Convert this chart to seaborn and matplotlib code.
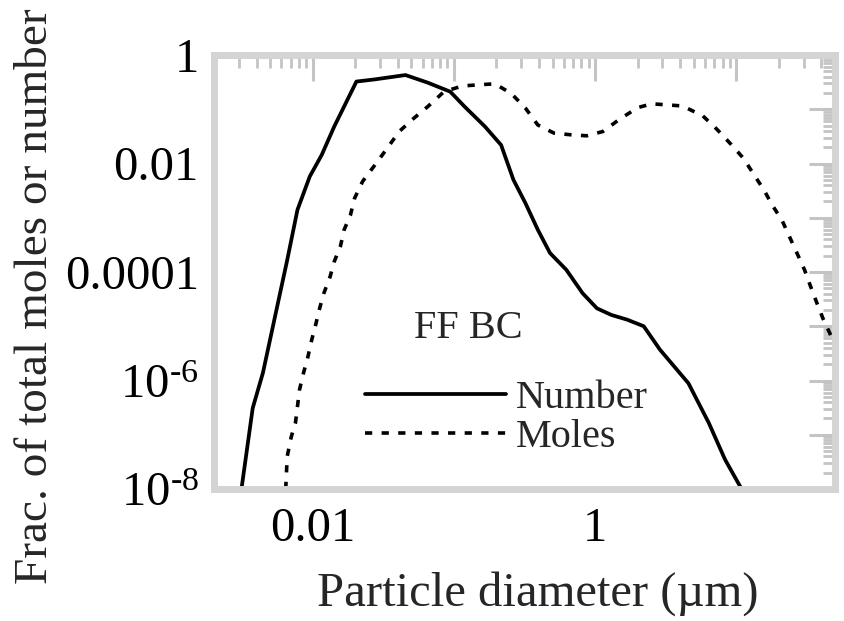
import matplotlib
matplotlib.use("Agg")
import matplotlib.pyplot as plt
import matplotlib.ticker as mticker
import seaborn as sns
import pandas as pd

# ---- data (particle diameter in µm, fraction) ----
number_diam = [0.00313, 0.00376, 0.00444, 0.0056, 0.0066, 0.0078, 0.00953, 0.0116,
               0.0142, 0.0204, 0.0275, 0.0454, 0.0653, 0.0942, 0.119, 0.166, 0.216,
               0.264, 0.321, 0.393, 0.479, 0.625, 0.815, 1.03, 1.30, 1.69, 2.21,
               2.88, 4.58, 6.38, 8.32, 10.9]
number_frac = [1e-8, 3.1e-7, 1.38e-6, 2.29e-5, 1.66e-4, 1.40e-3, 5.75e-3, 0.0145,
               0.0479, 0.324, 0.355, 0.427, 0.309, 0.211, 0.112, 0.0479, 0.0219,
               5.0e-3, 1.86e-3, 6.0e-4, 2.24e-4, 1.10e-4, 4.07e-5, 2.14e-5, 1.62e-5,
               1.32e-5, 1.0e-5, 3.7e-6, 8.9e-7, 1.66e-7, 3.5e-8, 1e-8]

moles_diam = [0.00644, 0.0066, 0.00706, 0.00755, 0.00807, 0.00861, 0.0092, 0.00984,
              0.0105, 0.0112, 0.012, 0.0133, 0.0142, 0.0157, 0.0167, 0.0185, 0.0198,
              0.0226, 0.0275, 0.0337, 0.041, 0.0518, 0.0653, 0.0851, 0.115, 0.15,
              0.195, 0.255, 0.321, 0.393, 0.512, 0.668, 0.871, 1.135, 1.48, 2.0,
              2.52, 3.29, 4.15, 5.78, 7.29, 9.2, 11.2, 13.2, 15.7, 17.9, 21.1, 24.1,
              27.2, 30.4, 33.6, 37.2, 41.0, 46.2, 50.0]
moles_frac = [1e-8, 4.0e-8, 9.3e-8, 1.66e-7, 6.8e-7, 1.38e-6, 2.57e-6, 5.6e-6,
              1.07e-5, 2.14e-5, 4.07e-5, 8.3e-5, 1.55e-4, 2.95e-4, 6.0e-4, 1.12e-3,
              2.29e-3, 4.7e-3, 9.3e-3, 0.0191, 0.0389, 0.0676, 0.112, 0.211, 0.269,
              0.282, 0.295, 0.195, 0.105, 0.0513, 0.0363, 0.0339, 0.0324, 0.0389,
              0.0646, 0.107, 0.126, 0.120, 0.115, 0.0759, 0.0427, 0.0224, 0.0126,
              6.5e-3, 3.24e-3, 1.74e-3, 8.9e-4, 4.17e-4, 2.09e-4, 1.10e-4, 5.4e-5,
              2.69e-5, 1.41e-5, 7.2e-6, 4.7e-6]

series_names = ["Number", "Moles"]
annotation = "FF BC"
x_label = "Particle diameter (µm)"
y_label = "Frac. of total moles or number"
x_tick_labels = {0.01: "0.01", 1.0: "1"}
y_tick_labels = {1.0: "1", 1e-2: "0.01", 1e-4: "0.0001",
                 1e-6: "10$^{\u2010 6}$", 1e-8: "10$^{\u2010 8}$"}

# ---- style ----
sns.set_style("white")
plt.rcParams["font.family"] = ["Liberation Serif", "DejaVu Serif"]
plt.rcParams["mathtext.fontset"] = "custom"
plt.rcParams["mathtext.rm"] = "Liberation Serif"
plt.rcParams["mathtext.it"] = "Liberation Serif:italic"
plt.rcParams["mathtext.bf"] = "Liberation Serif:bold"

df_num = pd.DataFrame({"d": number_diam, "f": number_frac})
df_mol = pd.DataFrame({"d": moles_diam, "f": moles_frac})

fig = plt.figure(figsize=(8.44, 6.21), dpi=100)
ax = fig.add_axes([214 / 844, 1 - 489 / 621, 621 / 844, 434 / 621])

sns.lineplot(data=df_num, x="d", y="f", ax=ax, color="black", lw=2.7,
             estimator=None, sort=False, label=series_names[0])
sns.lineplot(data=df_mol, x="d", y="f", ax=ax, color="black", lw=2.6,
             estimator=None, sort=False, label=series_names[1],
             linestyle=(0, (2.0, 2.6)))

ax.set_xscale("log")
ax.set_yscale("log")
ax.set_xlim(0.002, 50)
ax.set_ylim(1e-8, 1)

ax.xaxis.set_major_locator(mticker.LogLocator(base=10, numticks=20))
ax.xaxis.set_minor_locator(mticker.LogLocator(base=10, subs=range(2, 10), numticks=100))
ax.yaxis.set_major_locator(mticker.LogLocator(base=10, numticks=20))
ax.yaxis.set_minor_locator(mticker.LogLocator(base=10, subs=range(2, 10), numticks=100))


def fmt_x(v, pos):
    for k, s in x_tick_labels.items():
        if abs(v / k - 1) < 1e-6:
            return s
    return ""


def fmt_y(v, pos):
    for k, s in y_tick_labels.items():
        if abs(v / k - 1) < 1e-6:
            return s
    return ""


ax.xaxis.set_major_formatter(mticker.FuncFormatter(fmt_x))
ax.yaxis.set_major_formatter(mticker.FuncFormatter(fmt_y))
ax.xaxis.set_minor_formatter(mticker.NullFormatter())
ax.yaxis.set_minor_formatter(mticker.NullFormatter())

tick_col = "#c4c4c4"
ax.tick_params(which="both", direction="in", top=True, right=True, color=tick_col,
               labelcolor="black", labelsize=35)
ax.tick_params(which="major", length=19, width=2.2)
ax.tick_params(which="minor", length=9, width=2.0)
ax.tick_params(axis="x", which="major", pad=13)
ax.tick_params(axis="y", which="major", pad=11)

for sp in ax.spines.values():
    sp.set_color("#d4d4d4")
    sp.set_linewidth(5)
    sp.set_visible(True)

ax.set_xlabel(x_label, fontsize=35)
ax.set_ylabel(y_label, fontsize=34)
ax.xaxis.set_label_coords((538 - 214) / 621, (489 - 594) / 434)
ax.xaxis.label.set_va("center")
ax.yaxis.set_label_coords((36 - 214) / 621, (489 - 296) / 434)
ax.yaxis.label.set_va("center")

ax.text((468 - 214) / 621, (489 - 328) / 434, annotation, transform=ax.transAxes,
        ha="center", va="center", fontsize=29)

leg = ax.legend(loc="center left", bbox_to_anchor=((365 - 214) / 621, (489 - 418) / 434),
                frameon=False, fontsize=29, handlelength=3.5, handletextpad=0.25,
                labelspacing=0.03, borderpad=0, borderaxespad=0)

fig.savefig("out.png", dpi=100)
